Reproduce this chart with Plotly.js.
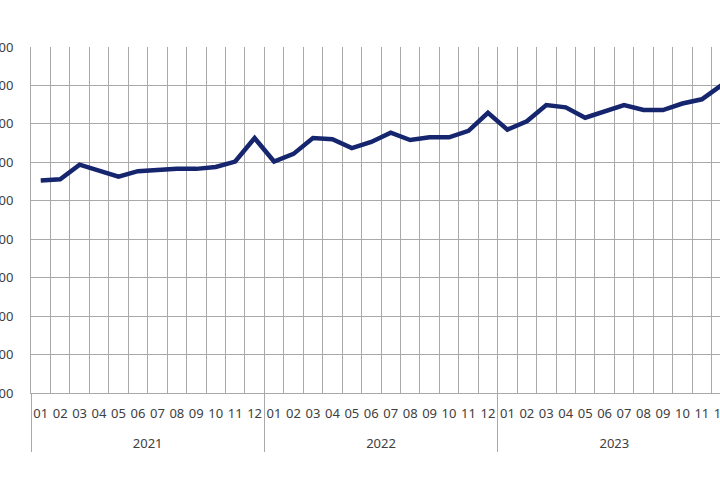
<!DOCTYPE html>
<html>
<head>
<meta charset="utf-8">
<script src="https://cdn.plot.ly/plotly-3.0.1.min.js"></script>
<style>
  html, body { margin: 0; padding: 0; width: 720px; height: 500px; overflow: hidden; background: #fff; }
  #chart { position: absolute; left: -60px; top: 0; width: 801px; height: 500px; }
</style>
</head>
<body>
<div id="chart"></div>
<script>
const years = ["2021", "2022", "2023"];
const months = ["01","02","03","04","05","06","07","08","09","10","11","12"];
const values2021 = [653, 656, 694, 680, 663, 677, 681, 683, 683, 688, 702, 763];
const values2022 = [702, 722, 763, 760, 737, 753, 777, 758, 765, 765, 782, 829];
const values2023 = [785, 807, 849, 843, 816, 832, 849, 836, 836, 853, 864, 900];
const yTicks = [100, 200, 300, 400, 500, 600, 700, 800, 900, 1000];

const seriesByYear = [values2021, values2022, values2023];
const xYear = [], xMonth = [], yVals = [];
years.forEach((yr, i) => {
  months.forEach((m, j) => {
    xYear.push(yr);
    // trailing blank line only adds vertical room between month row and year row
    xMonth.push(m + "<br><span style='font-size:17px'> </span>");
    yVals.push(seriesByYear[i][j]);
  });
});
const nCats = xMonth.length;

const trace = {
  type: "scatter",
  mode: "lines",
  x: [xYear, xMonth],
  y: yVals,
  line: { color: "#15256e", width: 4.5 },
  hoverinfo: "skip"
};

const font = { family: "Noto Sans, DejaVu Sans, sans-serif", size: 13, color: "#404040" };
const gridCol = "#a9a9a9";

const layout = {
  width: 801,
  height: 500,
  margin: { l: 91, r: 10, t: 47, b: 107 },
  paper_bgcolor: "#ffffff",
  plot_bgcolor: "#ffffff",
  showlegend: false,
  font: font,
  xaxis: {
    type: "multicategory",
    range: [-0.5, nCats - 0.5],
    tickson: "boundaries",
    tickangle: 0,
    ticklabelstandoff: 8,
    showgrid: true,
    gridcolor: gridCol,
    gridwidth: 1,
    showline: true,
    linecolor: gridCol,
    linewidth: 1,
    ticks: "",
    showdividers: true,
    dividercolor: gridCol,
    dividerwidth: 1,
    tickfont: { family: "Noto Sans, DejaVu Sans, sans-serif", size: 13, color: "#404040" },
    zeroline: false
  },
  yaxis: {
    range: [100, 1000],
    tickvals: yTicks,
    ticktext: yTicks.map(String),
    showgrid: true,
    gridcolor: gridCol,
    gridwidth: 1,
    showline: true,
    linecolor: gridCol,
    linewidth: 1,
    ticks: "",
    ticklabelstandoff: 14,
    tickfont: font,
    zeroline: false
  }
};

Plotly.newPlot("chart", [trace], layout, { staticPlot: true, displayModeBar: false });
</script>
</body>
</html>
